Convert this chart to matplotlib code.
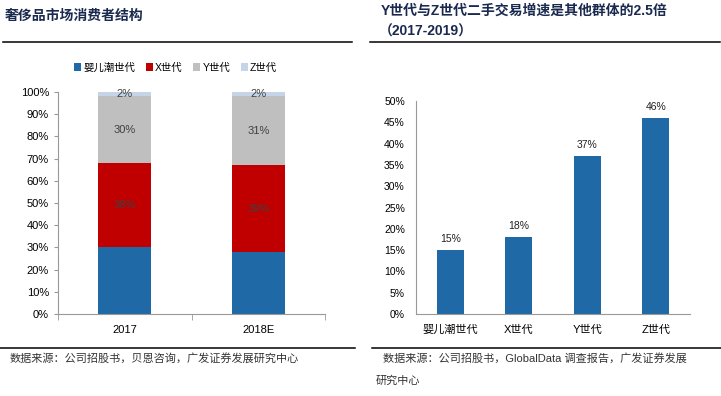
import matplotlib
matplotlib.use('Agg')
from matplotlib import pyplot as plt
from matplotlib.lines import Line2D
from matplotlib.ticker import PercentFormatter

plt.rcParams['font.family'] = ['Liberation Sans', 'Noto Sans CJK SC', 'DejaVu Sans']

# Left chart: stacked share by generation
years = ['2017', '2018E']
gen_names = ['婴儿潮世代', 'X世代', 'Y世代', 'Z世代']
boomer = [30, 28]
gen_x = [38, 39]
gen_y = [30, 31]
gen_z = [2, 2]

# Right chart: second-hand trade growth
growth_cats = ['婴儿潮世代', 'X世代', 'Y世代', 'Z世代']
growth = [15, 18, 37, 46]

W, H = 721, 396
fig = plt.figure(figsize=(W / 100, H / 100), dpi=100)

def px_axes(x0, y0, x1, y1):
    return fig.add_axes([x0 / W, 1 - y1 / H, (x1 - x0) / W, (y1 - y0) / H])

title_color = '#1a2a4f'
blue = '#1f69a6'
red = '#c00000'
gray = '#bfbfbf'
light = '#c6d4e8'
spine = '#999999'

# Titles and rules
fig.text(5 / W, 1 - 16 / H, '奢侈品市场消费者结构', fontsize=10, fontweight='bold',
         color=title_color, va='center')
fig.text(381 / W, 1 - 11 / H, 'Y世代与Z世代二手交易增速是其他群体的2.5倍', fontsize=10,
         fontweight='bold', color=title_color, va='center')
fig.text(379 / W, 1 - 32 / H, '（2017-2019）', fontsize=10, fontweight='bold',
         color=title_color, va='center')
for (a, b, y) in [(3, 352, 42), (370, 720, 42), (0, 355, 348), (372, 721, 348)]:
    fig.add_artist(Line2D([a / W, b / W], [1 - y / H, 1 - y / H], color='black', lw=1.1))

fig.text(10 / W, 1 - 358 / H, '数据来源：公司招股书，贝恩咨询，广发证券发展研究中心',
         fontsize=8, color='#333333', va='center')
fig.text(383 / W, 1 - 358 / H, '数据来源：公司招股书，GlobalData 调查报告，广发证券发展',
         fontsize=8, color='#333333', va='center')
fig.text(376 / W, 1 - 381 / H, '研究中心', fontsize=8, color='#333333', va='center')

# Left stacked bars
ax = px_axes(58, 92, 325, 314)
xs = range(len(years))
bottom = [0, 0]
series = [boomer, gen_x, gen_y, gen_z]
colors = [blue, red, gray, light]
for name, vals, c in zip(gen_names, series, colors):
    ax.bar(xs, vals, width=0.4, bottom=bottom, color=c, label=name)
    for i, v in enumerate(vals):
        if name != gen_names[0]:
            ax.text(i, bottom[i] + v / 2, f'{v}%', ha='center', va='center',
                    fontsize=8, color='#404040')
    bottom = [b + v for b, v in zip(bottom, vals)]
ax.set_xlim(-0.5, 1.5)
ax.set_ylim(0, 100)
ax.set_yticks(range(0, 101, 10))
ax.yaxis.set_major_formatter(PercentFormatter(decimals=0))
ax.set_xticks(list(xs))
ax.set_xticklabels(years)
ax.set_xticks([-0.5, 0.5, 1.5], minor=True)
ax.tick_params(axis='x', which='major', length=0, pad=8, labelsize=8)
ax.tick_params(axis='x', which='minor', length=4, color=spine)
ax.tick_params(axis='y', length=3, color=spine, labelsize=8)
for s in ['top', 'right']:
    ax.spines[s].set_visible(False)
ax.spines['left'].set_color(spine)
ax.spines['bottom'].set_color(spine)
ax.legend(loc='center', bbox_to_anchor=(0.44, 1.11), ncol=4, frameon=False,
          fontsize=7.5, handlelength=0.7, handleheight=0.7, handletextpad=0.2,
          columnspacing=1.0)

# Right bars
ax2 = px_axes(416, 101, 690, 314)
bx = range(len(growth_cats))
ax2.bar(bx, growth, width=0.4, color=blue)
for i, v in enumerate(growth):
    ax2.text(i, v + 1.5, f'{v}%', ha='center', va='bottom', fontsize=7.5, color='#222222')
ax2.set_xlim(-0.5, 3.5)
ax2.set_ylim(0, 50)
ax2.set_yticks(range(0, 51, 5))
ax2.yaxis.set_major_formatter(PercentFormatter(decimals=0))
ax2.set_xticks(list(bx))
ax2.set_xticklabels(growth_cats)
ax2.tick_params(axis='x', length=0, pad=8, labelsize=8)
ax2.tick_params(axis='y', length=0, pad=8, labelsize=7.5)
for s in ['top', 'right']:
    ax2.spines[s].set_visible(False)
ax2.spines['left'].set_color(spine)
ax2.spines['bottom'].set_color(spine)

fig.savefig('out.png', dpi=100)
